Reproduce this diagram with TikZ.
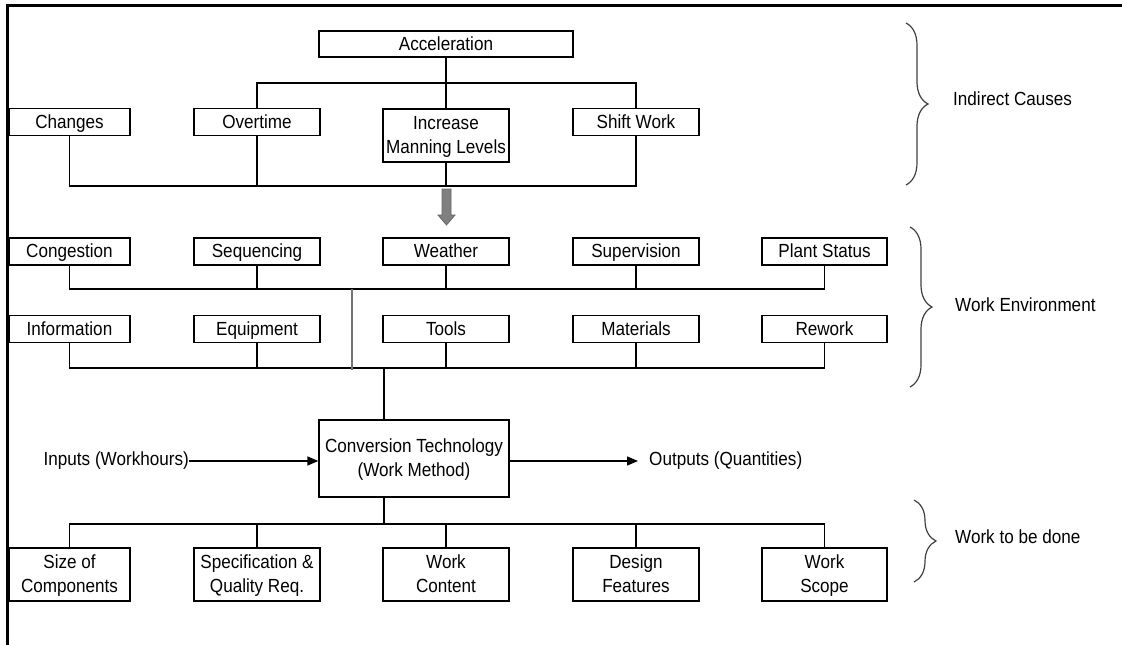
\documentclass[tikz,border=0pt]{standalone}
\usepackage{fontspec}
\setmainfont[FakeStretch=0.9]{Liberation Sans}
\usetikzlibrary{arrows.meta,decorations.pathreplacing}
\newcommand{\mystr}{\rule[-6pt]{0pt}{24pt}}
\begin{document}
\begin{tikzpicture}[x=1pt,y=-1pt,
  box/.style={draw=black, line width=1.3pt, fill=white, inner sep=0pt, minimum width=126pt, minimum height=27pt, align=center, font=\fontsize{19}{24}\selectfont},
  tall/.style={box, minimum height=53pt},
  wire/.style={draw=black, line width=1.3pt},
  gwire/.style={draw=black!55, line width=1.3pt},
  lbl/.style={inner sep=0pt, font=\fontsize{19}{24}\selectfont, anchor=west},
  brc/.style={draw=black!75, line width=1.2pt, decorate, decoration={brace, amplitude=22pt}},
  flow/.style={wire, -{Triangle[length=11pt,width=9pt]}}
]
\useasboundingbox (0,0) rectangle (1122,645);

% Indirect causes
\node[box, minimum width=254pt, minimum height=26pt] (acc) at (446,44) {\mystr Acceleration};
\node[box, minimum width=121pt] (chg) at (69.5,122) {\mystr Changes};
\node[box] (ovt) at (257,122) {\mystr Overtime};
\node[tall] (inc) at (446,135.5) {\mystr Increase\\\mystr Manning Levels};
\node[box] (shf) at (636,122) {\mystr Shift Work};
\coordinate (j1) at (446,83);
\coordinate (j2) at (446,186);
\draw[wire] (acc.south) -- (j1);
\draw[wire] (ovt.north) |- (j1) -| (shf.north);
\draw[wire] (j1) -- (inc.north);
\draw[wire] (chg.south) |- (j2) -| (shf.south);
\draw[wire] (ovt.south) -- (ovt.south |- j2);
\draw[wire] (inc.south) -- (j2);

% gray block arrow
\draw[draw=black!60, fill=black!50, line width=0.8pt] (442,189) -- (451,189) -- (451,215) -- (455,215) -- (446.5,225) -- (438,215) -- (442,215) -- cycle;

% Work environment
\node[box, minimum width=121pt] (con) at (69.5,251.5) {\mystr Congestion};
\node[box] (seq) at (257,251.5) {\mystr Sequencing};
\node[box] (wea) at (446,251.5) {\mystr Weather};
\node[box] (sup) at (636,251.5) {\mystr Supervision};
\node[box, minimum width=125pt] (pla) at (824.5,251.5) {\mystr Plant Status};
\node[box, minimum width=121pt] (inf) at (69.5,329) {\mystr Information};
\node[box] (equ) at (257,329) {\mystr Equipment};
\node[box] (too) at (446,329) {\mystr Tools};
\node[box] (mat) at (636,329) {\mystr Materials};
\node[box, minimum width=125pt] (rew) at (824.5,329) {\mystr Rework};
\coordinate (j3) at (446,289);
\coordinate (j4) at (446,368);
\draw[wire] (con.south) |- (j3) -| (pla.south);
\draw[wire] (seq.south) -- (seq.south |- j3);
\draw[wire] (wea.south) -- (j3);
\draw[wire] (sup.south) -- (sup.south |- j3);
\draw[wire] (inf.south) |- (j4) -| (rew.south);
\draw[wire] (equ.south) -- (equ.south |- j4);
\draw[wire] (too.south) -- (j4);
\draw[wire] (mat.south) -- (mat.south |- j4);
\coordinate (g1) at (352,289);
\coordinate (g2) at (352,370);
\draw[gwire] (g1) -- (g2);

% Conversion
\node[box, minimum width=190pt, minimum height=77pt] (conv) at (414,458.5) {\mystr Conversion Technology\\\mystr (Work Method)};
\coordinate (c1) at (384,368);
\draw[wire] (c1) -- (c1 |- conv.north);
\node[lbl, anchor=east] (inp) at (189,461) {Inputs (Workhours)};
\draw[flow] (inp.east) -- (inp.east -| conv.west);
\node[lbl] (outp) at (649,461) {Outputs (Quantities)};
\coordinate (oe) at (638,461);
\draw[flow] (conv.east |- oe) -- (oe);

% Work to be done
\node[tall, minimum width=121pt] (siz) at (69.5,574.5) {\mystr Size of\\\mystr Components};
\node[tall] (spe) at (257,574.5) {\mystr Specification \&\\\mystr Quality Req.};
\node[tall] (wco) at (446,574.5) {\mystr Work\\\mystr Content};
\node[tall] (des) at (636,574.5) {\mystr Design\\\mystr Features};
\node[tall, minimum width=125pt] (wsc) at (824.5,574.5) {\mystr Work\\\mystr Scope};
\coordinate (c2) at (384,524);
\draw[wire] (c2 |- conv.south) -- (c2);
\draw[wire] (siz.north) |- (c2) -| (wsc.north);
\draw[wire] (spe.north) -- (spe.north |- c2);
\draw[wire] (wco.north) -- (wco.north |- c2);
\draw[wire] (des.north) -- (des.north |- c2);

% braces and labels
\draw[brc] (906,23) -- (906,185);
\draw[brc] (910,227) -- (910,387);
\draw[brc] (914,500) -- (914,582);
\node[lbl] (ic) at (953,99) {Indirect Causes};
\node[lbl] (we) at (955,305) {Work Environment};
\node[lbl] (wd) at (955,537) {Work to be done};

% frame
\draw[line width=3pt] (7,645) -- (7,5) -- (1122,5);
\end{tikzpicture}
\end{document}
